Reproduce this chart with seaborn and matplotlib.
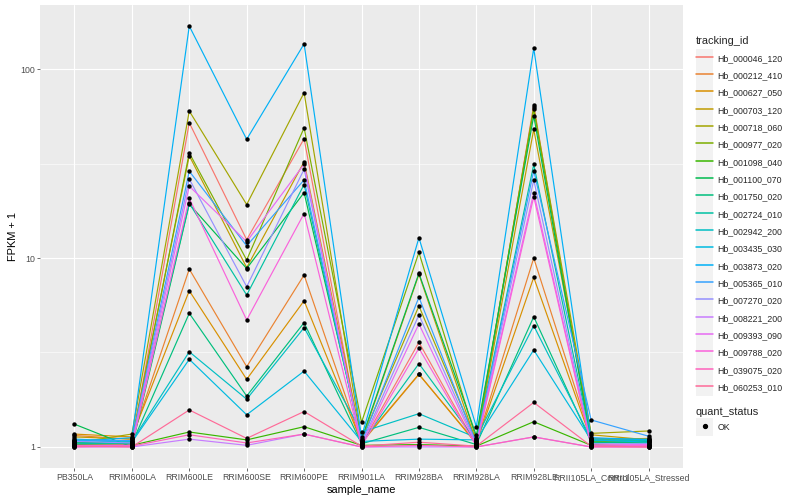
import numpy as np
import pandas as pd
import matplotlib
matplotlib.use("Agg")
import matplotlib.pyplot as plt
import seaborn as sns
from matplotlib.lines import Line2D
from matplotlib.patches import Rectangle
from matplotlib.legend_handler import HandlerLine2D

samples = ["PB350LA", "RRIM600LA", "RRIM600LE", "RRIM600SE", "RRIM600PE", "RRIM901LA",
           "RRIM928BA", "RRIM928LA", "RRIM928LE", "RRII105LA_Control", "RRII105LA_Stressed"]

# FPKM + 1 per gene, in sample order
hb_000046_120 = [1.02, 1.03, 52.0, 12.5, 42.8, 1.03, 3.58, 1.02, 64.5, 1.03, 1.02]
hb_000212_410 = [1.15, 1.10, 8.74, 2.66, 8.13, 1.05, 2.42, 1.05, 10.0, 1.11, 1.09]
hb_000627_050 = [1.17, 1.13, 6.71, 2.28, 5.94, 1.06, 2.43, 1.04, 7.9, 1.09, 1.11]
hb_000703_120 = [1.13, 1.10, 34.8, 8.9, 32.3, 1.08, 8.2, 1.06, 48.0, 1.16, 1.09]
hb_000718_060 = [1.05, 1.17, 60.0, 19.2, 75.0, 1.09, 5.57, 1.08, 62.7, 1.18, 1.215]
hb_000977_020 = [1.05, 1.06, 36.0, 9.76, 48.9, 1.35, 10.7, 1.10, 61.2, 1.07, 1.06]
hb_001098_040 = [1.03, 1.02, 1.20, 1.09, 1.28, 1.02, 1.03, 1.01, 1.36, 1.02, 1.01]
hb_001100_070 = [1.32, 1.00, 19.3, 8.8, 22.2, 1.10, 8.3, 1.15, 56.6, 1.05, 1.07]
hb_001750_020 = [1.06, 1.04, 5.1, 1.86, 4.55, 1.04, 1.27, 1.03, 4.89, 1.06, 1.05]
hb_002724_010 = [1.04, 1.05, 19.5, 6.37, 24.5, 1.05, 2.76, 1.07, 31.3, 1.08, 1.08]
hb_002942_200 = [1.10, 1.07, 3.19, 1.79, 4.28, 1.20, 1.5, 1.12, 4.38, 1.10, 1.10]
hb_003435_030 = [1.08, 1.06, 2.91, 1.48, 2.52, 1.07, 1.10, 1.09, 3.26, 1.09, 1.06]
hb_003873_020 = [1.07, 1.12, 169.0, 42.5, 136.0, 1.13, 12.8, 1.28, 129.0, 1.12, 1.09]
hb_005365_010 = [1.09, 1.08, 28.8, 11.6, 25.9, 1.06, 6.2, 1.05, 29.0, 1.39, 1.14]
hb_007270_020 = [1.07, 1.05, 26.2, 7.05, 29.5, 1.04, 5.0, 1.04, 25.9, 1.04, 1.04]
hb_008221_200 = [1.00, 1.00, 1.10, 1.02, 1.17, 1.00, 1.00, 1.00, 1.13, 1.00, 1.00]
hb_009393_090 = [1.02, 1.02, 24.0, 12.2, 31.4, 1.02, 4.48, 1.02, 22.2, 1.02, 1.03]
hb_009788_020 = [1.01, 1.01, 20.7, 4.7, 17.2, 1.01, 3.33, 1.01, 21.1, 1.01, 1.02]
hb_039075_020 = [1.00, 1.01, 1.16, 1.05, 1.17, 1.00, 1.02, 1.00, 1.13, 1.00, 1.00]
hb_060253_010 = [1.01, 1.00, 1.57, 1.11, 1.54, 1.01, 1.06, 1.01, 1.72, 1.01, 1.00]

tracking_ids = ["Hb_000046_120", "Hb_000212_410", "Hb_000627_050", "Hb_000703_120",
                "Hb_000718_060", "Hb_000977_020", "Hb_001098_040", "Hb_001100_070",
                "Hb_001750_020", "Hb_002724_010", "Hb_002942_200", "Hb_003435_030",
                "Hb_003873_020", "Hb_005365_010", "Hb_007270_020", "Hb_008221_200",
                "Hb_009393_090", "Hb_009788_020", "Hb_039075_020", "Hb_060253_010"]
series = [hb_000046_120, hb_000212_410, hb_000627_050, hb_000703_120, hb_000718_060,
          hb_000977_020, hb_001098_040, hb_001100_070, hb_001750_020, hb_002724_010,
          hb_002942_200, hb_003435_030, hb_003873_020, hb_005365_010, hb_007270_020,
          hb_008221_200, hb_009393_090, hb_009788_020, hb_039075_020, hb_060253_010]

# ggplot2 default hue palette for 20 levels
colors = ["#F8766D", "#EA8331", "#D89000", "#C09B00", "#A3A500", "#7CAE00", "#39B600",
          "#00BB4E", "#00BF7D", "#00C1A3", "#00BFC4", "#00BAE0", "#00B0F6", "#35A2FF",
          "#9590FF", "#C77CFF", "#E76BF3", "#FA62DB", "#FF62BC", "#FF6A98"]

rows = []
for tid, vals in zip(tracking_ids, series):
    for s, v in zip(samples, vals):
        rows.append({"tracking_id": tid, "sample_name": s, "fpkm": v, "quant_status": "OK"})
df = pd.DataFrame(rows)
df["x"] = pd.Categorical(df["sample_name"], categories=samples).codes

sns.set_theme(style="darkgrid")
plt.rcParams["font.family"] = ["Liberation Sans", "DejaVu Sans"]

fig = plt.figure(figsize=(8, 5), dpi=100)
ax = fig.add_axes([40 / 800, 32 / 500, 643 / 800, 463 / 500])
ax.set_facecolor("#EBEBEB")

sns.lineplot(data=df, x="x", y="fpkm", hue="tracking_id", hue_order=tracking_ids,
             palette=colors, linewidth=0.85, legend=False, ax=ax, estimator=None)
sns.scatterplot(data=df, x="x", y="fpkm", color="black", s=10, linewidth=0,
                legend=False, ax=ax, zorder=5)

ax.set_yscale("log")
lo, hi = np.log10(df["fpkm"].min()), np.log10(df["fpkm"].max())
pad = (hi - lo) * 0.05
ax.set_ylim(10 ** (lo - pad), 10 ** (hi + pad))
ax.set_xlim(-0.6, len(samples) - 0.4)

ax.set_xticks(range(len(samples)))
ax.set_xticklabels(samples)
ax.set_yticks([1, 10, 100])
ax.set_yticklabels(["1", "10", "100"])
ax.set_yticks([10 ** 0.5, 10 ** 1.5], minor=True)
ax.yaxis.set_minor_formatter(matplotlib.ticker.NullFormatter())

ax.grid(which="major", color="white", linewidth=0.8)
ax.grid(which="minor", axis="y", color="white", linewidth=0.4)
ax.tick_params(axis="both", which="major", length=2, width=0.5, color="#333333",
               labelsize=6.3, labelcolor="#4D4D4D", pad=1.5, bottom=True, left=True)
ax.tick_params(axis="y", which="minor", length=0)
for sp in ax.spines.values():
    sp.set_visible(False)

ax.set_xlabel("sample_name", fontsize=7.9, color="black", labelpad=2)
ax.set_ylabel("FPKM + 1", fontsize=7.9, color="black", labelpad=2)


class KeyHandler(HandlerLine2D):
    # grey ggplot-style key box behind each legend glyph
    def create_artists(self, legend, orig_handle, xdescent, ydescent, width, height, fontsize, trans):
        arts = super().create_artists(legend, orig_handle, xdescent, ydescent, width, height, fontsize, trans)
        bg = Rectangle((-xdescent, -ydescent - 0.3 * height), width, height * 1.6,
                       facecolor="#F2F2F2", edgecolor="none", transform=trans, zorder=0)
        return [bg] + list(arts)


handles = [Line2D([], [], color=c, linewidth=1.1) for c in colors]
leg1 = fig.legend(handles, tracking_ids, title="tracking_id", loc="upper left",
                  bbox_to_anchor=(696 / 800, 1 - 36 / 500), frameon=False, fontsize=6.3,
                  title_fontsize=7.9, handlelength=1.95, handleheight=1.55,
                  labelspacing=0.73, handletextpad=0.5, borderpad=0, borderaxespad=0,
                  alignment="left", handler_map={Line2D: KeyHandler()})
leg2 = fig.legend([Line2D([], [], color="black", marker="o", markersize=2.8, linestyle="none")],
                  ["OK"], title="quant_status", loc="upper left",
                  bbox_to_anchor=(696 / 800, 1 - 407 / 500), frameon=False, fontsize=6.3,
                  title_fontsize=7.9, handlelength=1.95, handleheight=1.55,
                  handletextpad=0.5, borderpad=0, borderaxespad=0,
                  alignment="left", handler_map={Line2D: KeyHandler()})

fig.savefig("out.png", dpi=100, facecolor="white")
